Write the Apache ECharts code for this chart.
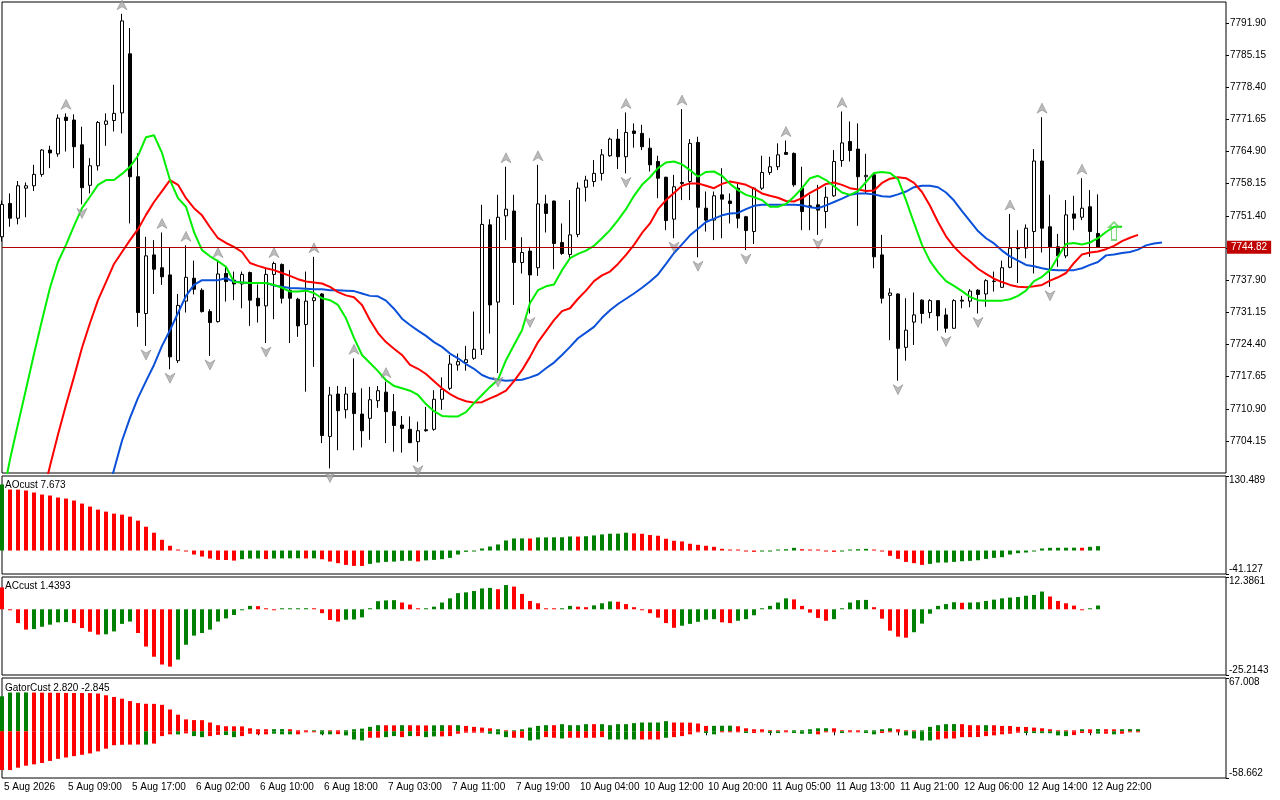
<!DOCTYPE html>
<html><head><meta charset="utf-8">
<script src="https://cdn.jsdelivr.net/npm/echarts@6/dist/echarts.min.js"></script>
<style>html,body{margin:0;padding:0;background:#fff}#c{width:1280px;height:800px}</style>
</head><body><div id="c"></div>
<script>
const tickLabels = ['5 Aug 2026','5 Aug 09:00','5 Aug 17:00','6 Aug 02:00','6 Aug 10:00','6 Aug 18:00','7 Aug 03:00','7 Aug 11:00','7 Aug 19:00','10 Aug 04:00','10 Aug 12:00','10 Aug 20:00','11 Aug 05:00','11 Aug 13:00','11 Aug 21:00','12 Aug 06:00','12 Aug 14:00','12 Aug 22:00'];
const priceTicks = [7704.15,7710.90,7717.65,7724.40,7731.15,7737.90,7744.65,7751.40,7758.15,7764.90,7771.65,7778.40,7785.15,7791.90];
const priceLabels = [7704.15,7710.90,7717.65,7724.40,7731.15,7737.90,7751.40,7758.15,7764.90,7771.65,7778.40,7785.15,7791.90];
const priceRange = [7697.43, 7796.27];
const aoRange = [-41.127, 130.489];
const acRange = [-25.2143, 12.3861];
const gatorRange = [-58.662, 67.008];

const opens = [7747.0,7754.0,7750.9,7757.2,7757.7,7760.1,7765.2,7764.4,7772.1,7771.5,
 7766.3,7757.8,7761.9,7770.6,7771.4,7773.0,7785.4,7759.6,7730.9,7743.2,
 7740.5,7739.0,7721.0,7733.5,7738.3,7735.8,7731.3,7729.2,7739.3,7737.9,
 7737.1,7739.5,7734.1,7732.5,7739.1,7741.2,7735.8,7733.9,7728.6,7733.6,
 7735.0,7705.1,7714.0,7710.7,7714.2,7709.8,7708.9,7712.6,7714.4,7710.3,
 7707.5,7706.6,7704.0,7706.5,7706.6,7712.9,7715.2,7720.1,7720.6,7721.5,
 7723.4,7749.5,7733.3,7751.4,7752.4,7741.6,7744.0,7740.5,7753.9,7754.5,
 7745.8,7743.3,7747.5,7757.4,7758.6,7760.3,7764.0,7767.5,7763.8,7769.2,
 7768.7,7765.6,7762.8,7759.5,7750.7,7758.4,7758.6,7766.8,7753.0,7750.5,
 7755.8,7754.5,7757.2,7751.2,7748.1,7757.2,7760.5,7761.7,7764.7,7764.5,
 7757.2,7753.5,7753.7,7752.3,7755.6,7763.0,7767.0,7765.4,7759.6,7760.0,
 7743.2,7734.7,7735.0,7723.8,7729.1,7733.7,7731.1,7733.6,7730.6,7727.8,
 7733.7,7733.5,7735.8,7735.0,7737.6,7736.4,7740.6,7744.7,7744.6,7748.1,
 7762.9,7749.1,7744.9,7743.0,7751.8,7751.1,7753.3,7747.7];
const highs = [7754.6,7756.1,7758.7,7758.4,7762.1,7765.4,7766.1,7772.7,7772.9,7772.7,
 7770.1,7763.5,7771.3,7772.9,7778.9,7793.8,7790.8,7764.5,7747.0,7746.3,
 7747.9,7744.8,7735.0,7745.2,7742.0,7736.2,7731.8,7741.8,7740.7,7739.7,
 7739.7,7739.7,7737.0,7740.4,7741.8,7741.4,7740.0,7734.2,7739.7,7742.8,
 7735.2,7715.5,7715.7,7715.5,7721.5,7715.2,7715.5,7715.7,7716.6,7714.0,
 7709.4,7709.3,7708.2,7711.3,7714.8,7717.5,7722.2,7722.5,7724.1,7731.3,
 7753.7,7750.7,7755.8,7761.7,7755.8,7746.9,7744.9,7762.1,7755.8,7754.6,
 7749.8,7754.7,7758.4,7759.8,7763.1,7765.4,7767.8,7769.6,7773.1,7770.8,
 7770.5,7767.7,7764.0,7759.6,7760.0,7773.8,7767.5,7768.0,7756.5,7756.5,
 7761.4,7756.1,7758.2,7751.4,7757.4,7764.0,7763.8,7766.6,7767.2,7764.7,
 7761.7,7755.8,7757.9,7757.5,7765.2,7773.3,7771.2,7770.8,7764.4,7760.2,
 7747.4,7736.2,7735.1,7734.1,7735.3,7733.9,7733.9,7733.7,7732.0,7733.9,
 7734.6,7736.0,7736.0,7738.1,7739.7,7742.0,7751.8,7748.4,7749.6,7765.4,
 7772.1,7755.8,7747.6,7754.7,7755.6,7759.3,7756.8,7755.9];
const lows = [7746.0,7749.1,7749.6,7751.1,7756.6,7759.6,7761.4,7763.8,7764.9,7761.4,
 7753.8,7756.1,7760.9,7766.1,7769.1,7768.7,7749.8,7728.1,7724.1,7735.0,
 7736.9,7719.2,7720.5,7731.1,7734.9,7731.1,7722.0,7729.0,7733.4,7733.7,
 7732.0,7728.3,7729.0,7724.7,7729.7,7733.0,7724.7,7726.0,7714.5,7719.7,
 7703.7,7698.4,7702.2,7708.9,7702.2,7702.8,7704.4,7711.1,7703.7,7701.9,
 7701.7,7703.7,7699.8,7706.1,7706.3,7710.7,7714.8,7718.9,7718.9,7721.2,
 7722.2,7726.7,7718.4,7746.3,7732.7,7739.3,7730.9,7738.8,7747.9,7740.2,
 7743.2,7742.1,7746.9,7754.4,7757.5,7758.8,7763.8,7761.2,7760.3,7765.7,
 7765.2,7760.7,7755.1,7748.4,7746.7,7754.7,7754.7,7742.7,7748.1,7746.3,
 7746.7,7749.8,7748.8,7744.2,7745.5,7756.8,7760.0,7761.0,7764.2,7757.5,
 7748.4,7748.4,7747.4,7748.8,7755.4,7761.7,7762.8,7749.3,7756.1,7740.4,
 7733.0,7725.3,7716.8,7721.0,7724.3,7728.8,7729.9,7727.3,7726.9,7727.7,
 7732.0,7732.2,7730.9,7732.3,7735.5,7736.3,7740.4,7737.3,7742.5,7739.3,
 7743.7,7736.5,7740.7,7742.5,7748.4,7750.5,7742.8,7744.8];
const closes = [7753.8,7750.9,7757.7,7757.7,7760.1,7765.2,7764.6,7771.9,7771.4,7765.9,
 7757.3,7761.9,7771.0,7771.3,7772.9,7792.3,7759.6,7731.1,7743.0,7740.2,
 7738.6,7721.8,7732.6,7738.5,7736.0,7731.3,7729.0,7739.2,7737.6,7737.1,
 7739.1,7733.7,7732.5,7739.1,7741.4,7734.1,7734.1,7728.3,7733.5,7734.2,
 7705.3,7713.8,7710.5,7714.0,7709.9,7706.3,7712.8,7714.7,7710.3,7707.4,
 7706.8,7703.8,7706.3,7706.3,7712.9,7715.0,7720.3,7720.8,7721.2,7723.4,
 7749.6,7732.7,7751.1,7752.8,7741.6,7743.7,7739.0,7753.9,7751.9,7745.6,
 7743.5,7747.4,7757.2,7758.9,7760.3,7764.2,7767.5,7763.8,7768.9,7768.7,
 7765.9,7762.1,7759.3,7750.4,7757.5,7758.2,7766.6,7753.2,7750.5,7755.6,
 7754.9,7754.0,7750.9,7748.3,7757.2,7760.5,7761.7,7764.2,7764.3,7757.9,
 7752.3,7753.2,7752.6,7755.3,7762.8,7766.7,7765.1,7759.6,7759.9,7742.8,
 7734.1,7735.2,7723.6,7727.4,7730.6,7730.9,7733.6,7730.4,7727.8,7733.6,
 7733.5,7735.6,7734.9,7737.8,7737.7,7740.5,7744.6,7744.5,7748.8,7762.9,
 7748.8,7744.9,7743.0,7751.6,7750.9,7753.0,7748.1,7744.82];

const lips = [7691.7,7700.3,7707.7,7715.0,7722.4,7729.5,7736.3,7741.7,7745.3,7749.3,
 7753.0,7755.4,7757.9,7758.9,7758.9,7760.2,7761.7,7764.0,7767.9,7768.3,
 7764.6,7758.9,7755.1,7753.3,7748.0,7744.2,7742.9,7741.9,7740.7,7737.5,
 7737.4,7737.3,7737.3,7737.3,7736.9,7736.3,7735.5,7735.5,7735.7,7735.2,
 7734.1,7733.7,7732.7,7729.9,7725.8,7722.2,7720.5,7718.8,7716.9,7715.7,
 7715.2,7714.7,7713.8,7711.9,7710.4,7709.4,7709.3,7709.3,7710.2,7712.1,
 7713.8,7715.5,7717.0,7721.1,7724.3,7727.4,7733.1,7735.8,7736.6,7737.0,
 7740.0,7742.5,7743.4,7744.1,7745.1,7746.7,7748.4,7750.5,7752.8,7755.6,
 7757.9,7759.5,7761.4,7762.6,7762.8,7762.2,7761.0,7759.6,7760.6,7760.7,
 7759.8,7758.1,7756.8,7755.8,7755.3,7754.7,7753.3,7753.3,7753.9,7755.4,
 7757.2,7759.3,7759.8,7758.9,7757.6,7756.3,7755.8,7756.6,7758.5,7760.4,
 7760.6,7760.4,7759.1,7754.7,7749.9,7745.3,7741.9,7739.6,7737.7,7736.7,
 7735.6,7734.4,7733.7,7733.6,7733.6,7733.6,7733.9,7734.6,7735.7,7737.7,
 7738.6,7740.0,7742.8,7745.5,7745.7,7745.4,7745.8,7746.7,7748.0,7749.1,
 7749.1];
const teeth = [null,null,null,null,null,7692.0,7698.9,7705.5,7711.7,7717.6,
 7723.7,7728.9,7733.7,7737.5,7741.3,7743.8,7746.3,7748.6,7751.6,7754.3,
 7756.6,7758.9,7757.9,7755.1,7753.0,7751.5,7749.0,7746.7,7745.7,7744.9,
 7743.8,7741.5,7740.9,7740.4,7740.0,7739.4,7738.8,7738.1,7737.6,7737.4,
 7737.2,7736.5,7735.4,7734.7,7734.3,7732.7,7729.5,7726.8,7724.9,7723.5,
 7722.2,7720.1,7719.3,7718.2,7716.7,7715.2,7714.0,7713.1,7712.5,7712.2,
 7712.3,7713.1,7713.8,7714.7,7716.7,7719.0,7721.8,7724.9,7727.2,7729.5,
 7731.4,7732.0,7734.0,7735.7,7737.7,7738.9,7739.7,7741.3,7743.2,7745.3,
 7747.8,7749.8,7752.8,7754.7,7756.2,7757.7,7758.2,7758.2,7757.7,7757.2,
 7758.1,7758.6,7758.3,7757.9,7757.1,7756.1,7755.6,7755.2,7754.5,7754.4,
 7755.1,7756.2,7757.1,7758.1,7758.4,7757.9,7757.2,7756.9,7756.6,7756.7,
 7758.3,7759.2,7759.5,7759.3,7758.3,7756.4,7753.5,7750.1,7747.1,7744.9,
 7743.2,7741.8,7740.3,7739.2,7738.2,7737.5,7736.9,7736.5,7736.4,7736.6,
 7736.9,7737.8,7738.5,7739.4,7741.5,7743.3,7743.7,7743.9,7744.4,7745.1,
 7746.1,7746.8,7747.4];
const jaw = [null,null,null,null,null,null,null,null,null,null,
 null,null,null,7692.0,7698.1,7704.2,7709.0,7713.2,7716.7,7720.1,
 7724.1,7727.4,7731.0,7734.6,7736.9,7737.9,7737.9,7737.9,7738.3,7737.6,
 7737.4,7737.3,7737.3,7737.3,7736.8,7736.5,7736.25,7736.2,7736.1,7736.0,
 7736.0,7735.8,7735.8,7735.7,7735.6,7735.1,7734.6,7734.5,7733.6,7731.9,
 7729.8,7728.5,7727.3,7726.2,7724.9,7723.9,7722.5,7721.5,7720.3,7719.3,
 7718.0,7717.3,7717.0,7716.8,7716.9,7717.0,7717.5,7718.1,7719.4,7720.6,
 7722.2,7723.9,7725.7,7726.9,7728.1,7730.0,7731.6,7732.9,7734.0,7735.1,
 7736.3,7737.6,7739.1,7741.3,7743.6,7745.4,7747.3,7748.7,7750.1,7750.8,
 7751.5,7751.9,7752.0,7752.8,7753.5,7753.7,7753.7,7753.7,7753.7,7753.7,
 7753.6,7753.2,7753.0,7753.6,7754.3,7755.0,7755.8,7756.1,7756.1,7755.9,
 7755.5,7755.4,7755.9,7756.5,7757.4,7757.7,7757.7,7757.4,7756.3,7754.6,
 7752.4,7750.3,7748.2,7746.7,7745.6,7744.1,7742.9,7742.0,7741.1,7740.8,
 7740.4,7740.1,7740.0,7740.0,7740.0,7740.4,7741.1,7741.7,7743.1,7743.3,
 7743.6,7743.8,7744.3,7745.2,7745.6,7745.8];

const fractalUp = [8,15,20,23,27,34,39,44,48,63,67,78,85,98,105,126,130,135];
const fractalDown = [10,18,21,26,33,41,52,62,66,78,84,87,93,102,112,118,122,131];
const signalUp = [[139, 7748.2]];

const ao = [115.6,106.8,106.6,105.1,101.6,98.0,96.3,92.8,91.0,87.5,
 82.2,76.9,71.6,68.1,64.6,62.8,59.3,52.3,41.7,31.2,
 18.8,8.3,1.0,-1.0,-7.0,-10.6,-14.1,-16.4,-16.6,-17.6,
 -15.2,-14.1,-14.0,-15.0,-14.0,-13.8,-13.7,-13.6,-13.9,-13.7,
 -15.3,-19.3,-22.2,-25.2,-26.9,-27.0,-23.4,-21.1,-19.9,-19.4,
 -18.1,-17.9,-19.2,-17.3,-16.4,-15.2,-12.9,-7.0,-2.3,-1.2,
 3.5,7.0,10.6,17.6,21.1,21.2,21.0,22.9,23.0,23.1,
 23.2,24.6,24.4,25.0,26.4,28.2,29.4,29.5,31.2,30.0,
 29.3,27.1,25.9,20.6,17.1,15.9,11.8,10.0,8.3,6.5,
 3.0,1.0,0.3,-0.5,-2.3,-1.5,-0.5,1.2,2.3,4.7,
 2.3,1.2,0.2,-1.2,-2.3,-1.0,0.8,2.3,2.9,1.2,
 -0.6,-9.3,-14.6,-19.9,-22.2,-25.2,-23.4,-21.1,-21.0,-19.9,
 -18.8,-18.1,-17.0,-14.7,-12.9,-11.7,-7.0,-4.7,-3.5,-1.2,
 3.5,4.7,4.8,4.9,5.0,4.8,6.5,7.673];
const aoState = 'GRRRRRRRRR'+'RRRRRRRRRR'+'RRRRRRRRRR'+'GGGRGGGGRG'+'RRRRRRGGGG'+'GGRGGGGGGG'+'GGGGGGRGGG'+'GGRGGGGGGR'+'RRRRRRRRRR'+'RRRRRGGGGG'+'RRRRRGGGGR'+'RRRRRRGGGG'+'GGGGGGGGGG'+'GGGGGRGG';

const ac = [8.4,-0.2,-5.3,-7.8,-7.6,-6.7,-5.9,-5.0,-4.9,-5.3,
 -7.2,-8.6,-9.7,-9.6,-8.5,-5.6,-4.7,-9.1,-14.3,-18.2,
 -21.2,-22.0,-19.3,-13.6,-10.1,-9.1,-7.8,-4.7,-3.5,-2.2,
 -0.3,1.3,1.2,0.2,-0.2,0.1,0.2,0.3,0.4,0.0,
 -1.5,-4.1,-4.7,-4.0,-3.9,-3.1,0.4,3.1,3.4,3.5,
 2.6,1.8,0.2,0.3,1.0,2.6,4.2,6.2,6.5,7.0,
 8.0,8.2,7.7,9.3,8.7,5.9,3.2,2.3,0.2,0.1,
 0.2,1.3,1.0,0.8,1.5,2.3,3.0,2.9,2.0,0.8,
 -0.1,-1.5,-3.2,-5.3,-7.1,-6.3,-5.6,-4.8,-4.0,-3.8,
 -5.0,-5.3,-4.4,-3.8,-2.3,0.1,1.3,2.6,4.2,3.8,
 1.3,-1.3,-3.3,-4.4,-3.8,0.1,2.6,3.5,3.6,0.8,
 -3.6,-8.2,-10.5,-10.9,-8.8,-5.5,-1.7,1.3,2.0,2.7,
 2.5,2.6,2.7,3.2,3.7,4.2,4.5,4.7,5.2,5.5,
 6.8,4.9,3.2,2.3,1.4,-0.2,0.1,1.4393];
const acState = 'RRRRGGGGGR'+'RRRGGGGRRR'+'RRGGGGGGGG'+'GGRRRGGGGR'+'RRRGGGGGGG'+'RRRGGGGGGG'+'GGRGRRRRRR'+'GGRRGGGRRR'+'RRRRRGGGGG'+'RRGGGGGGGR'+'RRRRGGGGGR'+'RRRRGGGGGG'+'RGGGGGGGGG'+'GRRRRRGG';

const gatorUp = [44.0,48.7,48.8,48.9,48.7,48.6,48.5,48.4,48.3,48.2,
 48.1,48.0,47.5,45.3,43.2,41.0,38.0,35.5,34.6,34.5,
 33.3,27.4,20.9,15.0,14.1,14.0,11.1,7.7,6.4,6.3,
 6.2,3.8,2.6,2.6,2.7,2.8,2.6,1.3,1.2,0.4,
 1.3,0.4,0.3,1.3,2.6,3.4,5.6,7.7,7.6,7.5,
 7.7,7.6,7.5,7.4,7.5,7.7,7.6,7.7,6.8,5.6,
 4.7,3.8,2.6,1.3,0.4,2.6,4.7,6.8,7.7,7.7,
 9.0,7.7,7.7,9.0,9.0,9.0,7.7,9.0,9.0,10.3,
 11.1,11.1,11.1,12.8,11.1,11.0,10.9,9.8,6.8,6.9,
 7.0,7.1,6.4,3.8,2.6,2.5,1.3,1.2,0.4,0.4,
 1.3,2.6,3.8,3.9,3.8,0.4,1.3,0.3,0.4,0.5,
 2.6,3.8,2.6,0.4,0.3,0.5,5.6,7.7,9.0,9.1,
 9.0,7.7,7.6,7.7,7.6,6.8,6.7,5.6,5.5,4.7,
 3.8,2.6,0.4,0.3,0.3,2.6,2.5,2.82,2.6,2.5,
 2.6,2.8,2.7];
const gatorDown = [-48.7,-48.7,-45.7,-43.2,-41.5,-39.8,-37.2,-34.6,-32.9,-31.2,
 -29.5,-27.8,-25.2,-21.8,-17.5,-16.9,-16.7,-16.6,-16.7,-15.4,
 -6.0,-3.8,-3.9,-2.6,-6.0,-7.3,-6.0,-4.5,-4.7,-7.3,
 -6.0,-3.0,-3.8,-3.8,-3.0,-3.8,-3.8,-3.8,-0.4,-0.4,
 -3.8,-3.8,-3.6,-5.1,-10.3,-11.5,-8.1,-8.0,-7.3,-6.0,
 -7.3,-6.0,-6.0,-7.3,-6.4,-6.4,-6.0,-3.0,-1.7,-1.7,
 -1.7,-3.0,-3.8,-7.3,-8.1,-8.1,-11.5,-10.3,-7.3,-8.1,
 -9.0,-8.1,-8.1,-8.1,-8.1,-7.3,-10.3,-10.3,-10.3,-10.3,
 -10.3,-10.3,-10.3,-8.1,-7.3,-6.0,-3.8,-0.4,-2.1,-3.8,
 -0.9,-0.9,-0.9,-2.1,-2.1,-0.4,-2.1,-2.2,-0.4,-2.1,
 -3.0,-3.1,-3.8,-0.9,-0.9,-2.1,-0.4,-0.3,-2.1,-3.8,
 -2.1,-0.9,-0.9,-5.1,-9.0,-11.5,-11.5,-10.3,-9.0,-9.0,
 -7.3,-7.3,-7.2,-6.0,-5.1,-3.8,-3.0,-1.7,-2.1,-2.2,
 -2.3,-2.4,-5.1,-6.0,-4.7,-2.1,-2.1,-2.845,-3.0,-3.8,
 -3.0,-0.4,-0.9];
const gatorUpState = 'GGGGRRRRRR'+'RRRRRRRRRR'+'RRRRRRRRRR'+'RRRRGGRRRG'+'GRRGGGGGRR'+'GRRRGGRGRR'+'RRGRGGGGGR'+'GGGGRGGGGG'+'GGGGRRRRRG'+'GGRRRRRRRG'+'GGGGRRRRGG'+'GGRRRGGGGG'+'RRRGRRRRRR'+'RRRRRGRGRR'+'GGG';
const gatorDownState = 'RRRRRRRRRR'+'RRRRRRRRGR'+'RRGRGGRRGG'+'RRRRGGGRRR'+'GGRGGGRRGG'+'RGRGGRRRRR'+'RGGGRRGGRR'+'GRRRRRGGGG'+'RRRGRRRRGG'+'RRRGRRGGRG'+'GGRRRGRRGG'+'RRRGGGGRRR'+'RRRRRRRRGG'+'GGGGRRRGRG'+'RRR';

const NCAT = 154;
const cats = Array.from({length: NCAT}, (_, i) => String(i));
const FONT = 'Liberation Sans';
const GREEN = '#008000', RED = '#ff0000';
const colorOf = s => s === 'G' ? GREEN : RED;
const lastBar = closes.length - 1;

const candleData = opens.map((o, i) => [o, closes[i], lows[i], highs[i]]);
const colored = (vals, st) => vals.map((v, i) => ({value: v, itemStyle: {color: colorOf(st[i])}}));

const grids = [
  {left: 2, right: 54, top: 2, height: 471},
  {left: 2, right: 54, top: 476, height: 98},
  {left: 2, right: 54, top: 577, height: 98},
  {left: 2, right: 54, top: 678, height: 100}
].map(g => Object.assign(g, {show: true, borderColor: '#000', borderWidth: 1, backgroundColor: '#fff', outerBoundsMode: 'none', containLabel: false}));

const showTick = idx => idx % 8 === 0 && idx <= lastBar;
const xAxes = grids.map((g, k) => ({
  type: 'category', gridIndex: k, data: cats, boundaryGap: false,
  axisLine: {show: false}, splitLine: {show: false},
  axisTick: {show: k === 3, interval: showTick, length: 4, lineStyle: {color: '#000'}},
  axisLabel: {show: k === 3, interval: showTick, align: 'left', margin: 4, padding: [0,0,0,2],
    fontFamily: FONT, fontSize: 10, color: '#000',
    formatter: (v, idx) => tickLabels[idx / 8] || ''}
}));

function subAxis(k, range) {
  return {
    type: 'value', gridIndex: k, position: 'right', min: range[0], max: range[1], scale: true,
    splitLine: {show: false}, axisLine: {show: false},
    axisTick: {show: true, length: 3, customValues: range, lineStyle: {color: '#000'}},
    axisLabel: {show: true, customValues: range, margin: 3, fontFamily: FONT, fontSize: 10, color: '#000',
      formatter: v => (v === range[1] ? '{t|' + v + '}' : '{b|' + v + '}'),
      rich: {t: {padding: [9,0,0,0], fontFamily: FONT, fontSize: 10, color: '#000'},
             b: {padding: [0,0,10,0], fontFamily: FONT, fontSize: 10, color: '#000'}}}
  };
}
const yAxes = [
  {type: 'value', gridIndex: 0, position: 'right', min: priceRange[0], max: priceRange[1], scale: true,
   splitLine: {show: false}, axisLine: {show: false},
   axisTick: {show: true, length: 3, customValues: priceTicks, lineStyle: {color: '#000'}},
   axisLabel: {show: true, customValues: priceLabels, margin: 4, fontFamily: FONT, fontSize: 10, color: '#000',
     formatter: v => v.toFixed(2)}},
  subAxis(1, aoRange), subAxis(2, acRange), subAxis(3, gatorRange)
];

const upArrow = 'path://M5,0 L10,10 L5,7 L0,10 Z';
const downArrow = 'path://M0,0 L5,3 L10,0 L5,10 Z';
const hollowUp = 'path://M5,0 L10,5 L7.5,5 L7.5,18 L2.5,18 L2.5,5 L0,5 Z';

const titleStyle = {fontFamily: FONT, fontSize: 10, fontWeight: 'normal', color: '#000'};
const option = {
  animation: false,
  backgroundColor: '#fff',
  title: [
    {text: 'AOcust ' + ao[lastBar].toFixed(3), left: 5, top: 480, padding: 0, textStyle: titleStyle},
    {text: 'ACcust ' + ac[lastBar].toFixed(4), left: 5, top: 581, padding: 0, textStyle: titleStyle},
    {text: 'GatorCust ' + gatorUp[lastBar].toFixed(3) + ' ' + gatorDown[lastBar].toFixed(3), left: 5, top: 683, padding: 0, textStyle: titleStyle}
  ],
  grid: grids, xAxis: xAxes, yAxis: yAxes,
  series: [
    {type: 'candlestick', xAxisIndex: 0, yAxisIndex: 0, data: candleData, barWidth: 4,
     itemStyle: {color: '#ffffff', color0: '#000000', borderColor: '#000000', borderColor0: '#000000', borderWidth: 1},
     markLine: {silent: true, symbol: ['none','none'], animation: false,
       lineStyle: {color: '#b00000', width: 1, type: 'solid'},
       label: {show: true, position: 'end', distance: 1, formatter: p => p.value.toFixed(2),
         color: '#fff', backgroundColor: '#c00000', padding: [2,4,1,4], fontFamily: FONT, fontSize: 10},
       data: [{yAxis: closes[lastBar]}]}},
    {type: 'line', xAxisIndex: 0, yAxisIndex: 0, data: jaw, showSymbol: false, symbol: 'none',
     lineStyle: {color: '#0a50d8', width: 2}, z: 3},
    {type: 'line', xAxisIndex: 0, yAxisIndex: 0, data: teeth, showSymbol: false, symbol: 'none',
     lineStyle: {color: '#ff0000', width: 2}, z: 3},
    {type: 'line', xAxisIndex: 0, yAxisIndex: 0, data: lips, showSymbol: false, symbol: 'none',
     lineStyle: {color: '#00ee00', width: 2}, z: 3},
    {type: 'scatter', xAxisIndex: 0, yAxisIndex: 0, data: fractalUp.map(i => [i, highs[i]]),
     symbol: upArrow, symbolSize: [10, 10], symbolOffset: [0, -9],
     itemStyle: {color: '#aaaaaa', borderColor: '#7a7a7a', borderWidth: 0.6}, z: 4},
    {type: 'scatter', xAxisIndex: 0, yAxisIndex: 0, data: fractalDown.map(i => [i, lows[i]]),
     symbol: downArrow, symbolSize: [10, 10], symbolOffset: [0, 9],
     itemStyle: {color: '#aaaaaa', borderColor: '#7a7a7a', borderWidth: 0.6}, z: 4},
    {type: 'scatter', xAxisIndex: 0, yAxisIndex: 0, data: signalUp,
     symbol: hollowUp, symbolSize: [10, 18],
     itemStyle: {color: 'rgba(255,255,255,0)', borderColor: '#5ccc5c', borderWidth: 1.5}, z: 5},
    {type: 'bar', xAxisIndex: 1, yAxisIndex: 1, data: colored(ao, aoState), barWidth: 4, barMinHeight: 1},
    {type: 'bar', xAxisIndex: 2, yAxisIndex: 2, data: colored(ac, acState), barWidth: 4, barMinHeight: 1},
    {type: 'bar', xAxisIndex: 3, yAxisIndex: 3, data: colored(gatorUp, gatorUpState), barWidth: 4, barGap: '-100%', barMinHeight: 1},
    {type: 'bar', xAxisIndex: 3, yAxisIndex: 3, data: colored(gatorDown, gatorDownState), barWidth: 4, barGap: '-100%', barMinHeight: 1}
  ]
};
const chart = echarts.init(document.getElementById('c'), null, {renderer: 'canvas'});
chart.setOption(option);
</script>
</body></html>
